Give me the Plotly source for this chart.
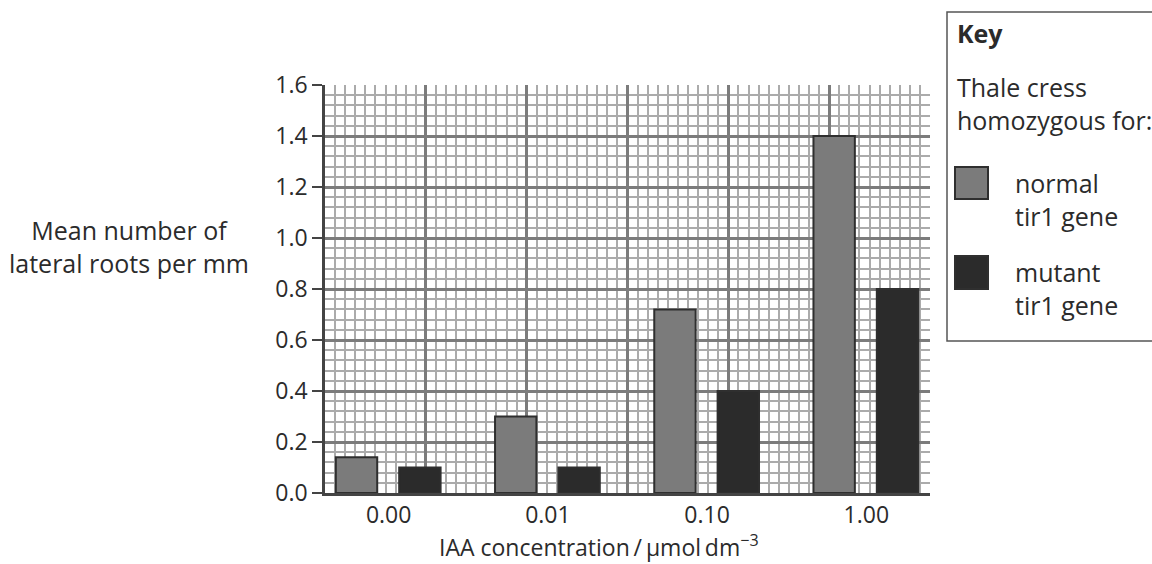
import plotly.graph_objects as go

# ---- data ----
concentrations = ["0.00", "0.01", "0.10", "1.00"]
normal_tir1 = [0.14, 0.30, 0.72, 1.40]
mutant_tir1 = [0.10, 0.10, 0.40, 0.80]
y_ticks = [0.0, 0.2, 0.4, 0.6, 0.8, 1.0, 1.2, 1.4, 1.6]

# ---- style ----
FONT = "Open Sans"
TXT = "#2b2b2b"
NORMAL_C = "#7b7b7b"
MUTANT_C = "#2b2b2b"
EDGE_C = "#2f2f2f"
MAJOR_GRID = "#7c7c7c"
MINOR_GRID = "#ababab"

W, H = 1152, 564
L, R, T, B = 325, 222, 85, 71
PW, PH = W - L - R, H - T - B


def px(xp):
    return (xp - L) / PW


def py(yp):
    return (H - B - yp) / PH


fig = go.Figure()
# empty trace so that the graph-paper axis (x) is drawn
fig.add_trace(go.Scatter(x=[], y=[], xaxis="x", yaxis="y", showlegend=False, hoverinfo="skip"))
fig.add_trace(go.Bar(
    x=concentrations, y=normal_tir1, xaxis="x2", yaxis="y",
    width=0.26, offset=-0.332,
    marker=dict(color=NORMAL_C, line=dict(color=EDGE_C, width=2)),
    name="normal tir1 gene", showlegend=False, hoverinfo="x+y",
))
fig.add_trace(go.Bar(
    x=concentrations, y=mutant_tir1, xaxis="x2", yaxis="y",
    width=0.26, offset=0.066,
    marker=dict(color=MUTANT_C, line=dict(color=EDGE_C, width=2)),
    name="mutant tir1 gene", showlegend=False, hoverinfo="x+y",
))

fig.update_layout(
    width=W, height=H,
    margin=dict(l=L, r=R, t=T, b=B, pad=0),
    paper_bgcolor="white", plot_bgcolor="white",
    font=dict(family=FONT, size=23, color=TXT),
    barmode="overlay",
    xaxis=dict(
        range=[0, 6], dtick=1, tick0=0, showticklabels=False, ticks="",
        showgrid=True, gridcolor=MAJOR_GRID, gridwidth=2.5,
        minor=dict(dtick=0.1, tick0=0, showgrid=True, gridcolor=MINOR_GRID, gridwidth=2),
        zeroline=False, showline=False, fixedrange=True,
    ),
    xaxis2=dict(
        type="category", overlaying="x", side="bottom",
        range=[-0.4, len(concentrations) - 0.6],
        showgrid=False, zeroline=False, ticks="",
        tickfont=dict(family=FONT, size=23, color=TXT),
        showline=True, linecolor="#444444", linewidth=2.5,
        fixedrange=True,
    ),
    yaxis=dict(
        range=[0, 1.6], tickvals=y_ticks,
        ticktext=[f"{v:.1f}" for v in y_ticks],
        ticks="outside", ticklen=10, tickwidth=2, tickcolor="#444444",
        showgrid=True, gridcolor=MAJOR_GRID, gridwidth=2.5,
        minor=dict(dtick=0.04, tick0=0, showgrid=True, gridcolor=MINOR_GRID, gridwidth=2),
        showline=True, linecolor="#444444", linewidth=2.5,
        zeroline=False, tickfont=dict(family=FONT, size=23, color=TXT),
        fixedrange=True,
    ),
)


def note(text, x, y, xanchor="left", align="left", size=25):
    return dict(text=text, xref="paper", yref="paper", x=px(x), y=py(y),
                xanchor=xanchor, yanchor="middle", showarrow=False, align=align,
                font=dict(family=FONT, size=size, color=TXT))


annotations = [
    note("Mean number of<br>lateral roots per mm", 129, 246, "center", "center"),
    note("IAA concentration\u2009/\u2009µmol\u2009dm<sup>−3</sup>", 599, 546, "center", "center", 23),
    note("<b>Key</b>", 955, 33),
    note("Thale cress<br>homozygous for:", 955, 104),
    note("normal<br>tir1 gene", 1013, 199),
    note("mutant<br>tir1 gene", 1013, 288),
]
fig.update_layout(annotations=annotations)

shapes = [
    dict(type="rect", xref="paper", yref="paper", x0=px(947), x1=px(1170),
         y0=py(341), y1=py(12), line=dict(color="#555555", width=1.5), fillcolor="rgba(0,0,0,0)"),
    dict(type="rect", xref="paper", yref="paper", x0=px(955), x1=px(988),
         y0=py(199), y1=py(167), line=dict(color=EDGE_C, width=2), fillcolor=NORMAL_C),
    dict(type="rect", xref="paper", yref="paper", x0=px(955), x1=px(988),
         y0=py(289), y1=py(256), line=dict(color=EDGE_C, width=2), fillcolor=MUTANT_C),
]
fig.update_layout(shapes=shapes)

fig.write_html("out.html")
